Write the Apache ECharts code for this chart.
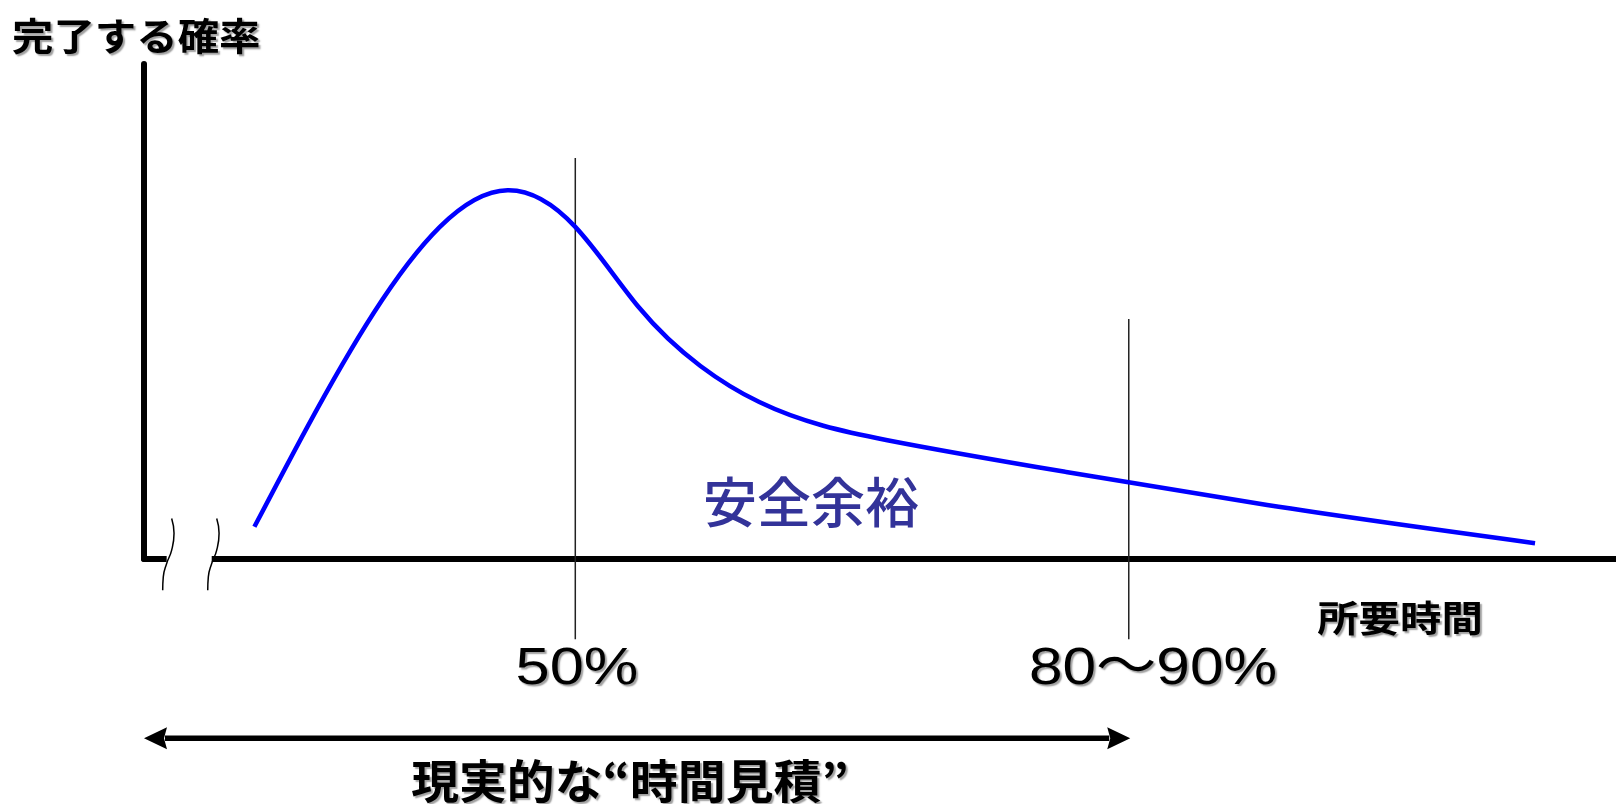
<!DOCTYPE html>
<html><head><meta charset="utf-8">
<script src="https://cdn.jsdelivr.net/npm/echarts@6/dist/echarts.min.js"></script>
<style>html,body{margin:0;padding:0;background:#fff}#c{width:1616px;height:804px}</style>
</head><body><div id="c"></div>
<script>
// ---- data (axis units: time 0..100, probability 0..100) ----
const curveX = [7.5, 11.1, 15.6, 20.1, 24.7, 29.3, 33.6, 37.8, 41.8, 50.5, 62.6, 76.3, 94.5];
const curveY = [6.5, 26.7, 49.7, 67.1, 74.5, 67.1, 50.9, 39.0, 31.7, 24.0, 17.6, 10.9, 3.2];
const markerX = [29.3, 66.9];          // 50% and 80-90% positions
const markerTop = [81.0, 48.5];
const markerBottom = -16.2;
const markerLabels = ['50%', '80～90%'];
const breakGap = [1.54, 4.60];
const waveLeftX = [1.88, 2.04, 1.88, 1.54, 1.31, 1.27];
const waveRightX = [4.94, 5.10, 4.94, 4.60, 4.37, 4.33];
const waveY = [8.2, 5.2, 1.8, -0.9, -3.6, -6.3];
const arrowSpan = [0, 67.0];
const arrowY = -36.2;
const yAxisTitle = '完了する確率';
const xAxisTitle = '所要時間';
const marginLabel = '安全余裕';
const estimateLabel = '現実的な“時間見積”';

const chart = echarts.init(document.getElementById('c'));
const shadow = {textShadowColor: 'rgba(0,0,0,0.38)', textShadowBlur: 1.5, textShadowOffsetX: 2, textShadowOffsetY: 2};
const zip = (xs, ys) => xs.map((x, i) => [x, ys[i]]);

// natural cubic spline (y as function of x) through mapped points, as Bezier path
function splinePath(pts) {
  const n = pts.length;
  const x = pts.map(p => p[0]), y = pts.map(p => p[1]);
  const h = [];
  for (let i = 0; i < n - 1; i++) h.push(x[i + 1] - x[i]);
  // solve for second derivatives M (natural: M0 = Mn-1 = 0)
  const a = new Array(n).fill(0), b = new Array(n).fill(1), c = new Array(n).fill(0), r = new Array(n).fill(0);
  for (let i = 1; i < n - 1; i++) {
    a[i] = h[i - 1]; b[i] = 2 * (h[i - 1] + h[i]); c[i] = h[i];
    r[i] = 6 * ((y[i + 1] - y[i]) / h[i] - (y[i] - y[i - 1]) / h[i - 1]);
  }
  for (let i = 1; i < n; i++) {
    const m = a[i] / b[i - 1];
    b[i] -= m * c[i - 1]; r[i] -= m * r[i - 1];
  }
  const M = new Array(n).fill(0);
  M[n - 1] = r[n - 1] / b[n - 1];
  for (let i = n - 2; i >= 0; i--) M[i] = (r[i] - c[i] * M[i + 1]) / b[i];
  M[0] = 0; M[n - 1] = 0;
  let d = 'M' + x[0] + ' ' + y[0];
  for (let i = 0; i < n - 1; i++) {
    const s = (y[i + 1] - y[i]) / h[i];
    const d0 = s - h[i] * (2 * M[i] + M[i + 1]) / 6;
    const d1 = s + h[i] * (M[i] + 2 * M[i + 1]) / 6;
    const c1 = [x[i] + h[i] / 3, y[i] + d0 * h[i] / 3];
    const c2 = [x[i + 1] - h[i] / 3, y[i + 1] - d1 * h[i] / 3];
    d += ' C' + c1[0] + ' ' + c1[1] + ' ' + c2[0] + ' ' + c2[1] + ' ' + x[i + 1] + ' ' + y[i + 1];
  }
  return d;
}

const curveData = zip(curveX, curveY);
const series = [
  {
    type: 'custom', name: 'curve', data: curveData, clip: false, z: 5, silent: true,
    renderItem: (p, api) => {
      if (p.dataIndex !== 0) return null;
      const pts = curveData.map(d => api.coord(d));
      return {type: 'path', shape: {pathData: splinePath(pts)},
              style: {fill: 'none', stroke: '#0000ff', lineWidth: 4.5, lineJoin: 'round'}};
    }
  },
  {
    type: 'custom', name: 'axisBreakCover', clip: false, z: 3, silent: true,
    data: [[breakGap[0], breakGap[1]]],
    renderItem: (p, api) => {
      const a = api.coord([api.value(0), 0]);
      const b = api.coord([api.value(1), 0]);
      return {type: 'rect', shape: {x: a[0], y: a[1] - 5, width: b[0] - a[0], height: 10}, style: {fill: '#fff'}};
    }
  },
  {
    type: 'line', data: zip(waveLeftX, waveY), smooth: 0.5, showSymbol: false, clip: false,
    lineStyle: {color: '#000', width: 1.5}, z: 4, silent: true
  },
  {
    type: 'line', data: zip(waveRightX, waveY), smooth: 0.5, showSymbol: false, clip: false,
    lineStyle: {color: '#000', width: 1.5}, z: 4, silent: true
  },
  {
    type: 'custom', name: 'arrow', clip: false, z: 4, silent: true,
    data: [[arrowSpan[0], arrowSpan[1], arrowY]],
    renderItem: (p, api) => {
      const y = api.value(2);
      const a = api.coord([api.value(0), y]);
      const b = api.coord([api.value(1), y]);
      const hl = 23, hh = 11, sh = 5.5;
      return {type: 'group', children: [
        {type: 'rect', shape: {x: a[0] + hl - 2, y: a[1] - sh / 2, width: b[0] - a[0] - 2 * hl + 4, height: sh}, style: {fill: '#000'}},
        {type: 'polygon', shape: {points: [[a[0], a[1]], [a[0] + hl, a[1] - hh], [a[0] + hl - 3, a[1]], [a[0] + hl, a[1] + hh]]}, style: {fill: '#000'}},
        {type: 'polygon', shape: {points: [[b[0], b[1]], [b[0] - hl, b[1] - hh], [b[0] - hl + 3, b[1]], [b[0] - hl, b[1] + hh]]}, style: {fill: '#000'}}
      ]};
    }
  }
];
markerX.forEach((x, i) => {
  series.push({
    type: 'line', data: [[x, markerBottom], [x, markerTop[i]]], showSymbol: false, clip: false,
    lineStyle: {color: '#222', width: 1.5}, z: 4, silent: true
  });
});

const txt = (text, x, y, font, opts = {}) => Object.assign({
  type: 'text', x, y, silent: true,
  style: Object.assign({text, font, fill: '#000', textAlign: 'center', textVerticalAlign: 'middle'}, opts.style || {})
}, opts.el || {});

chart.setOption({
  backgroundColor: '#fff',
  animation: false,
  grid: {left: 144, right: 0, top: 64, bottom: 245},
  xAxis: {type: 'value', min: 0, max: 100, axisLine: {show: true, onZero: true, lineStyle: {color: '#000', width: 6}},
          axisTick: {show: false}, axisLabel: {show: false}, splitLine: {show: false}},
  yAxis: {type: 'value', min: 0, max: 100, axisLine: {show: true, lineStyle: {color: '#000', width: 6}},
          axisTick: {show: false}, axisLabel: {show: false}, splitLine: {show: false}},
  series,
  graphic: [
    txt(yAxisTitle, 12, 36, 'bold 38px "Noto Sans CJK JP"', {style: Object.assign({textAlign: 'left'}, shadow), el: {scaleX: 1.09}}),
    txt(xAxisTitle, 1400, 618, 'bold 36px "Noto Sans CJK JP"', {style: shadow, el: {scaleX: 1.15}}),
    txt(markerLabels[0], 577, 670, '52px "Liberation Sans", "Noto Sans CJK JP"', {style: shadow, el: {scaleX: 1.18}}),
    txt(markerLabels[1], 1153, 670, '52px "Liberation Sans", "Noto Sans CJK JP"', {style: shadow, el: {scaleX: 1.16}}),
    txt(marginLabel, 811, 502, '500 54px "Noto Sans CJK JP"', {style: {fill: '#333399'}}),
    txt(estimateLabel, 630, 781, 'bold 46px "Noto Sans CJK JP"', {style: shadow, el: {scaleX: 1.04}})
  ]
});
</script>
</body></html>
